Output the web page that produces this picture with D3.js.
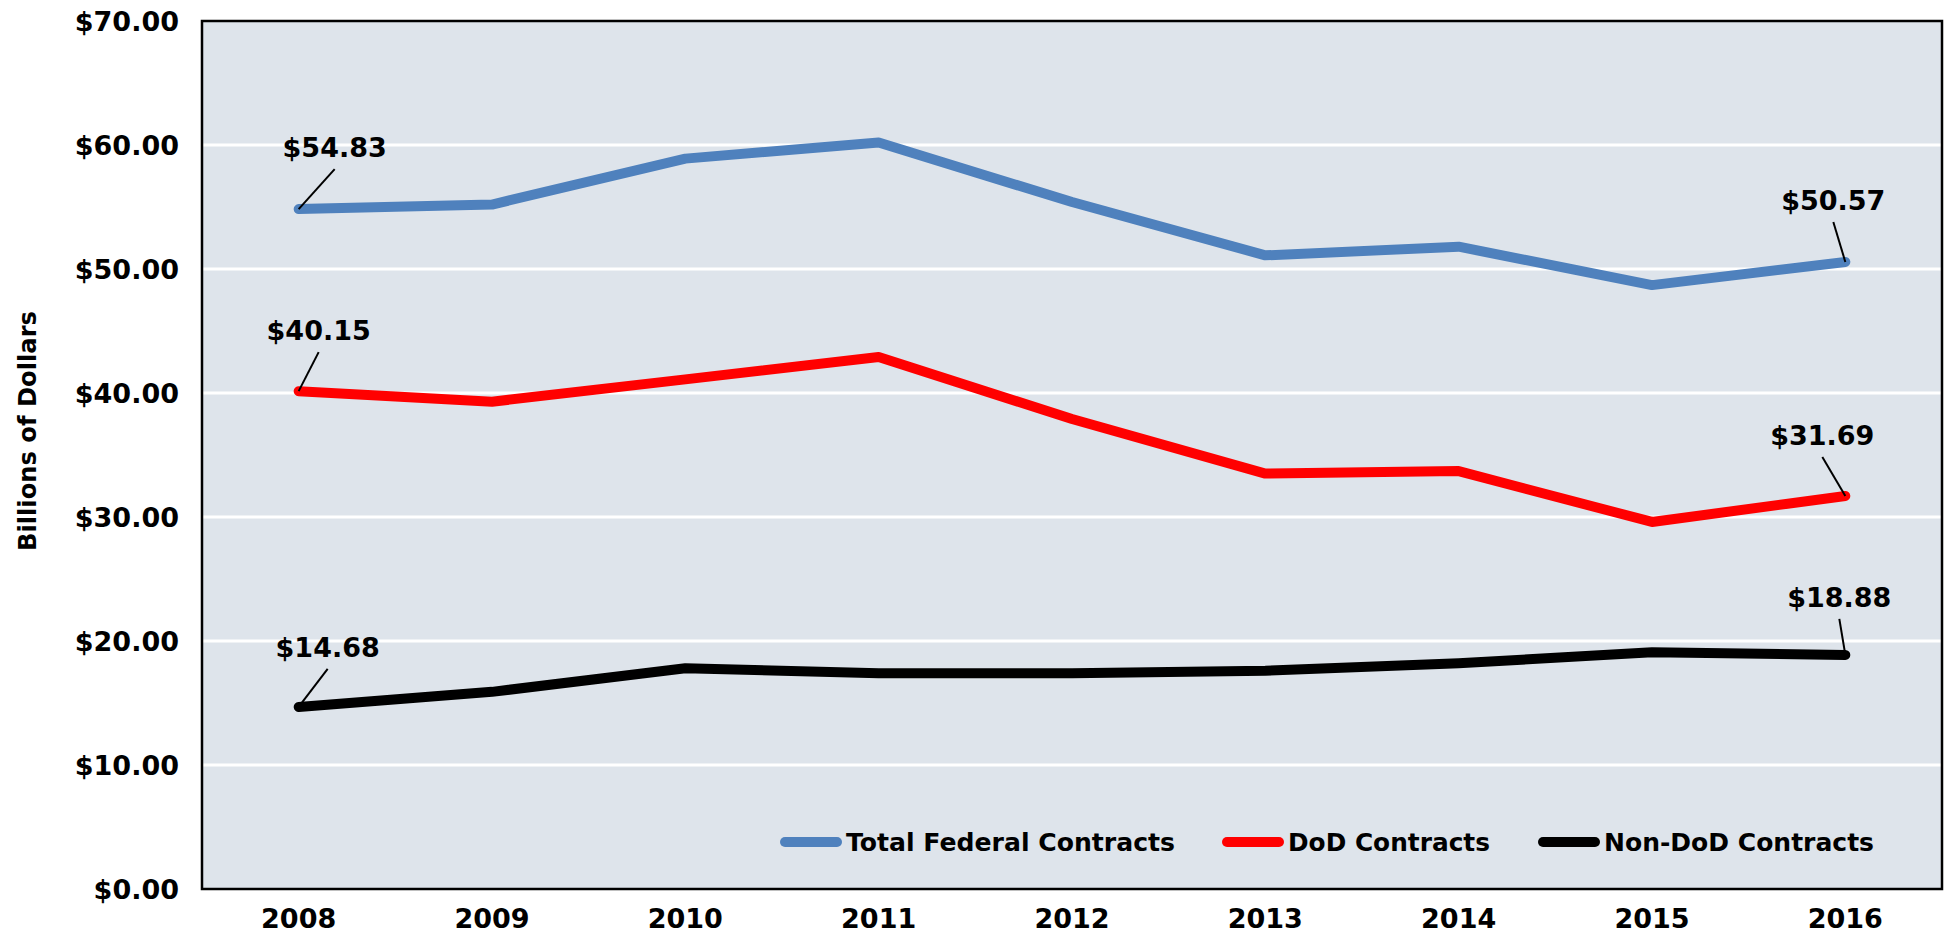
<!DOCTYPE html>
<html>
<head>
<meta charset="utf-8">
<title>Federal Contracts</title>
<script src="https://d3js.org/d3.v7.min.js"></script>
<style>
  body { margin: 0; background: #fff; }
  svg text { font-family: "DejaVu Sans", "Open Sans", sans-serif; font-weight: 700; fill: #000; }
</style>
</head>
<body>
<svg id="chart" width="1944" height="935"></svg>
<script>
// data, billions of dollars
var years = ["2008", "2009", "2010", "2011", "2012", "2013", "2014", "2015", "2016"];
var totalFederal = [54.83, 55.2, 58.9, 60.2, 55.4, 51.1, 51.8, 48.7, 50.57];
var dodContracts = [40.15, 39.3, 41.1, 42.9, 37.9, 33.5, 33.7, 29.6, 31.69];
var nonDodContracts = [14.68, 15.9, 17.8, 17.4, 17.4, 17.6, 18.2, 19.1, 18.88];
var yTicks = [0, 10, 20, 30, 40, 50, 60, 70];
var seriesNames = ["Total Federal Contracts", "DoD Contracts", "Non-DoD Contracts"];

var series = [
  { name: seriesNames[0], values: totalFederal, color: "#4f81bd" },
  { name: seriesNames[1], values: dodContracts, color: "#ff0000" },
  { name: seriesNames[2], values: nonDodContracts, color: "#000000" }
];

// labelled points: series index, year index, text offset
var callouts = [
  { s: 0, i: 0, dx: 36, dy: -52 },
  { s: 0, i: 8, dx: -12, dy: -52 },
  { s: 1, i: 0, dx: 20, dy: -51 },
  { s: 1, i: 8, dx: -23, dy: -51 },
  { s: 2, i: 0, dx: 29, dy: -50 },
  { s: 2, i: 8, dx: -6, dy: -48 }
];

var svg = d3.select("#chart");
var m = { left: 202, top: 21, right: 2, bottom: 46 };
var W = 1944, H = 935;

var x = d3.scalePoint().domain(years).range([m.left, W - m.right]).padding(0.5);
var y = d3.scaleLinear().domain([0, 70]).range([H - m.bottom, m.top]);

// plot background
svg.append("rect")
  .attr("x", m.left).attr("y", m.top)
  .attr("width", W - m.right - m.left).attr("height", H - m.bottom - m.top)
  .attr("fill", "#dee4eb");

// gridlines
svg.append("g").selectAll("line")
  .data(yTicks.slice(1, -1)).join("line")
  .attr("x1", m.left).attr("x2", W - m.right)
  .attr("y1", d => y(d)).attr("y2", d => y(d))
  .attr("stroke", "#fff").attr("stroke-width", 3);

// frame
svg.append("rect")
  .attr("x", m.left).attr("y", m.top)
  .attr("width", W - m.right - m.left).attr("height", H - m.bottom - m.top)
  .attr("fill", "none").attr("stroke", "#000").attr("stroke-width", 2.5);

// y tick labels
svg.append("g").selectAll("text")
  .data(yTicks).join("text")
  .attr("x", 179).attr("y", d => y(d)).attr("dy", "0.36em")
  .attr("text-anchor", "end").style("font-size", "27px")
  .text(d => "$" + d3.format(".2f")(d));

// x tick labels
svg.append("g").selectAll("text")
  .data(years).join("text")
  .attr("x", d => x(d)).attr("y", 928)
  .attr("text-anchor", "middle").style("font-size", "27px")
  .text(d => d);

// y axis title
svg.append("text")
  .attr("transform", "translate(36,431) rotate(-90)")
  .attr("text-anchor", "middle").style("font-size", "24px")
  .attr("textLength", 240).attr("lengthAdjust", "spacingAndGlyphs")
  .text("Billions of Dollars");

// lines
var line = d3.line().x((d, i) => x(years[i])).y(d => y(d));
svg.append("g").selectAll("path")
  .data(series).join("path")
  .attr("d", d => line(d.values))
  .attr("fill", "none").attr("stroke", d => d.color)
  .attr("stroke-width", 10).attr("stroke-linecap", "round").attr("stroke-linejoin", "round");

// callouts
var cg = svg.append("g");
callouts.forEach(function (c) {
  var v = series[c.s].values[c.i];
  var px = x(years[c.i]), py = y(v);
  var tx = px + c.dx, ty = py + c.dy;
  cg.append("line")
    .attr("x1", px).attr("y1", py)
    .attr("x2", tx).attr("y2", ty + 12)
    .attr("stroke", "#000").attr("stroke-width", 2);
  cg.append("text")
    .attr("x", tx).attr("y", ty)
    .attr("text-anchor", "middle").style("font-size", "27px")
    .text("$" + d3.format(".2f")(v));
});

// legend
var legendX = [785, 1227, 1543];
var legendW = [329, 202, 270];
var lg = svg.append("g");
series.forEach(function (s, i) {
  lg.append("line")
    .attr("x1", legendX[i]).attr("x2", legendX[i] + 52)
    .attr("y1", 842).attr("y2", 842)
    .attr("stroke", s.color).attr("stroke-width", 10).attr("stroke-linecap", "round");
  lg.append("text")
    .attr("x", legendX[i] + 61).attr("y", 851)
    .style("font-size", "25px")
    .attr("textLength", legendW[i]).attr("lengthAdjust", "spacingAndGlyphs")
    .text(s.name);
});
</script>
</body>
</html>
